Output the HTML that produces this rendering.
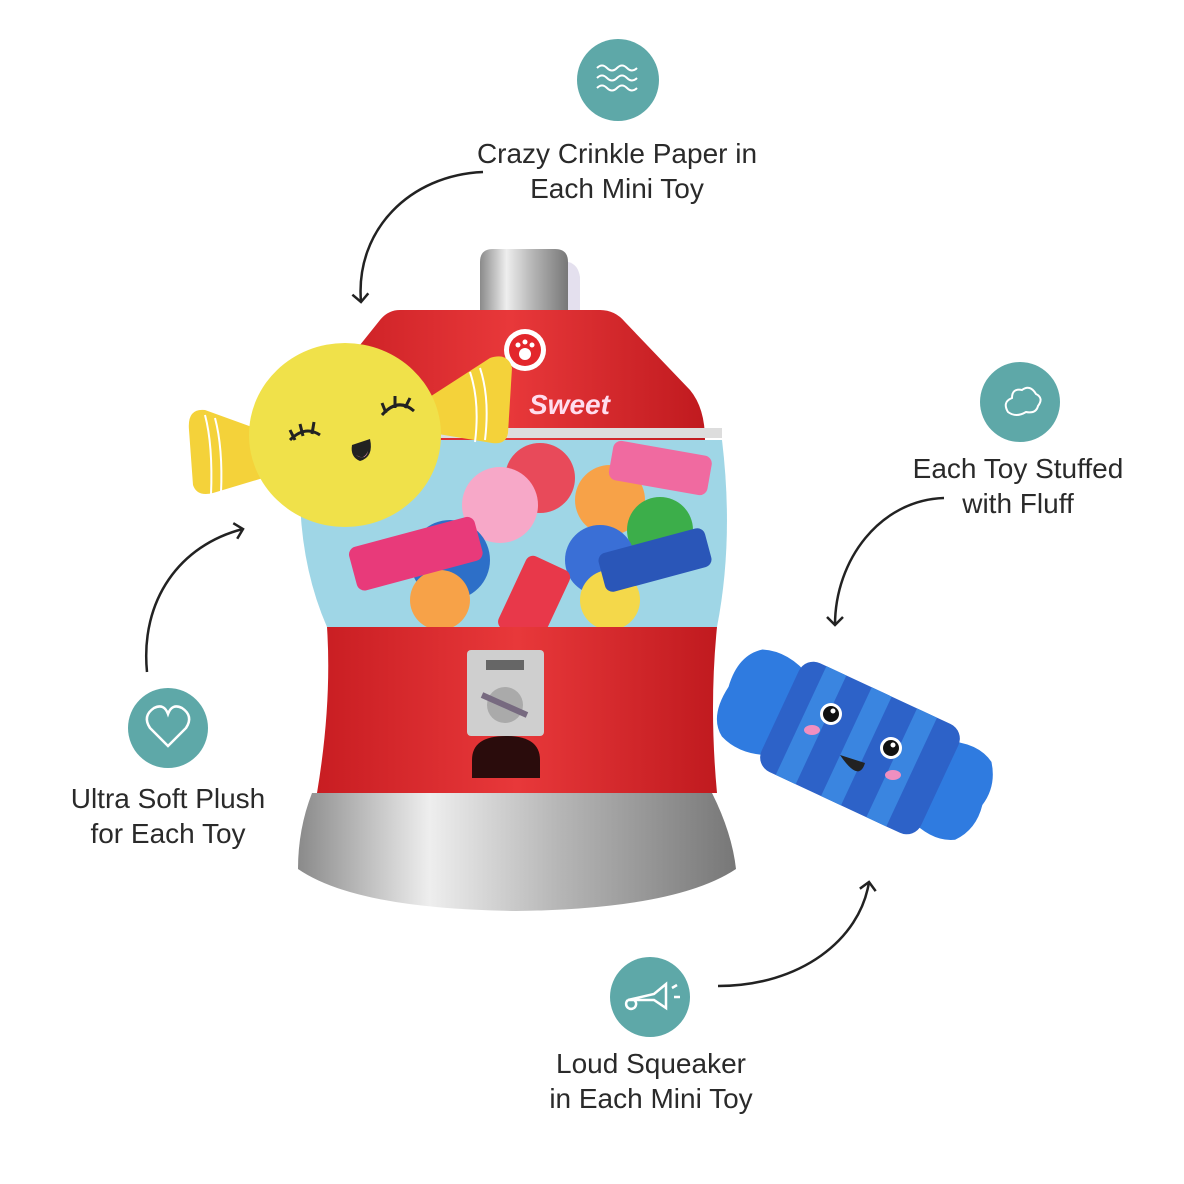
<!DOCTYPE html>
<html><head><meta charset="utf-8"><style>
html,body{margin:0;padding:0;background:#fff;width:1184px;height:1184px;overflow:hidden}
svg{display:block}
text{font-family:"Liberation Sans",sans-serif;fill:#2a2a2a}
</style></head><body>
<svg width="1184" height="1184" viewBox="0 0 1184 1184" xmlns="http://www.w3.org/2000/svg">
<defs>
<marker id="ah" markerWidth="20" markerHeight="20" refX="10" refY="10" orient="auto" markerUnits="userSpaceOnUse">
<path d="M2,2 L10,10 L2,18" fill="none" stroke="#222" stroke-width="2.5"/></marker>
<linearGradient id="silver" x1="0" x2="1"><stop offset="0" stop-color="#8a8a8a"/><stop offset="0.3" stop-color="#eee"/><stop offset="0.6" stop-color="#b5b5b5"/><stop offset="1" stop-color="#777"/></linearGradient>
<linearGradient id="red" x1="0" x2="1"><stop offset="0" stop-color="#c81d22"/><stop offset="0.5" stop-color="#e8383a"/><stop offset="1" stop-color="#c01a1f"/></linearGradient>
</defs>

<circle cx="618" cy="80" r="41" fill="#5ea8a8"/>
<path d="M597,68 q5,-5 10,0 t10,0 t10,0 t10,0 M597,78 q5,-5 10,0 t10,0 t10,0 t10,0 M597,88 q5,-5 10,0 t10,0 t10,0 t10,0" fill="none" stroke="#fff" stroke-width="2"/>
<circle cx="1020" cy="402" r="40" fill="#5ea8a8"/>
<path d="M1008,412 q-6,-10 4,-14 q0,-10 10,-8 q8,-6 14,4 q8,4 2,12 q-2,8 -12,6 q-10,6 -18,0z" fill="none" stroke="#fff" stroke-width="2"/>
<circle cx="168" cy="728" r="40" fill="#5ea8a8"/>
<path d="M168,746 l-18,-18 q-8,-12 4,-20 q10,-5 14,6 q4,-11 14,-6 q12,8 4,20z" fill="none" stroke="#fff" stroke-width="2.5"/>
<circle cx="650" cy="997" r="40" fill="#5ea8a8"/>
<path d="M628,1000 l26,-6 l12,-10 v24 l-12,-8z M628,1000 a5,5 0 1 0 4,-1 M672,988 l5,-3 M674,997 h6" fill="none" stroke="#fff" stroke-width="2.5"/>

<g font-size="28" text-anchor="middle">
<text x="617" y="163">Crazy Crinkle Paper in</text>
<text x="617" y="198">Each Mini Toy</text>
<text x="1018" y="478">Each Toy Stuffed</text>
<text x="1018" y="513">with Fluff</text>
<text x="168" y="808">Ultra Soft Plush</text>
<text x="168" y="843">for Each Toy</text>
<text x="651" y="1073">Loud Squeaker</text>
<text x="651" y="1108">in Each Mini Toy</text>
</g>

<g fill="none" stroke="#222" stroke-width="2.5" marker-end="url(#ah)">
<path d="M483,172 C410,175 355,230 361,302"/>
<path d="M944,498 C880,500 835,560 835,625"/>
<path d="M147,672 C140,600 180,545 243,529"/>
<path d="M718,986 C800,986 860,940 869,882"/>
</g>

<!-- gumball machine -->
<path d="M480,262 q0,-13 13,-13 h62 q13,0 13,13 v50 h-88z" fill="url(#silver)"/>
<path d="M568,262 q10,2 12,15 v35 h-12z" fill="#e4e0ee"/>
<path d="M420,310 h180 q15,0 25,12 l65,68 q15,18 15,50 h-390 q0,-40 25,-70 l40,-50 q8,-10 20,-10z" fill="url(#red)"/>
<text x="529" y="414" font-size="28" font-style="italic" font-weight="bold" style="fill:#fde">Sweet</text>
<circle cx="525" cy="350" r="21" fill="#fff"/>
<circle cx="525" cy="350" r="16" fill="#e3262b"/>
<circle cx="525" cy="354" r="6" fill="#fff"/><circle cx="518" cy="345" r="2.5" fill="#fff"/><circle cx="525" cy="342" r="2.5" fill="#fff"/><circle cx="532" cy="345" r="2.5" fill="#fff"/>
<path d="M302,440 h420 q12,100 -5,187 h-390 q-35,-80 -25,-187z" fill="#9fd6e6"/>
<circle cx="540" cy="478" r="35" fill="#e84a5a"/>
<circle cx="500" cy="505" r="38" fill="#f7a8c8"/>
<circle cx="610" cy="500" r="35" fill="#f7a248"/>
<circle cx="660" cy="530" r="33" fill="#3cae4a"/>
<circle cx="450" cy="560" r="40" fill="#2d6fc8"/>
<circle cx="600" cy="560" r="35" fill="#3a6fd6"/>
<circle cx="440" cy="600" r="30" fill="#f7a248"/>
<circle cx="610" cy="600" r="30" fill="#f4d84a"/>
<rect x="350" y="530" width="130" height="45" rx="8" fill="#e83a7a" transform="rotate(-15 420 550)"/>
<rect x="610" y="448" width="100" height="40" rx="8" fill="#f06aa0" transform="rotate(10 660 470)"/>
<rect x="600" y="540" width="110" height="40" rx="8" fill="#2a56b8" transform="rotate(-15 655 560)"/>
<rect x="510" y="560" width="48" height="80" rx="8" fill="#e8384a" transform="rotate(25 535 600)"/>
<rect x="302" y="428" width="420" height="10" fill="#ddd"/>
<path d="M327,627 h390 q-8,80 0,166 h-400 q15,-90 10,-166z" fill="url(#red)"/>
<rect x="467" y="650" width="77" height="86" rx="4" fill="#cfcfcf"/>
<rect x="486" y="660" width="38" height="10" fill="#666"/>
<circle cx="505" cy="705" r="18" fill="#aaa"/>
<path d="M482,695 l45,20" stroke="#776a80" stroke-width="6"/>
<path d="M472,760 q0,-24 34,-24 q34,0 34,24 v18 h-68z" fill="#2a0c0c"/>
<path d="M312,793 h400 q20,40 24,76 q-60,40 -220,42 q-160,-2 -218,-42 q0,-40 14,-76z" fill="url(#silver)"/>

<!-- yellow candy -->
<path d="M260,430 l-55,-20 q-18,-2 -16,20 l4,55 q4,12 20,8 l50,-15z" fill="#f4d23a"/>
<path d="M205,415 q8,30 6,80 M215,418 q8,30 6,75" stroke="#fff" stroke-width="2" fill="none"/>
<path d="M425,400 l65,-42 q18,-6 22,10 l-4,65 q-2,12 -16,10 l-60,-10z" fill="#f4d23a"/>
<path d="M470,372 q10,30 5,70 M480,368 q10,30 5,72" stroke="#fff" stroke-width="2" fill="none"/>
<ellipse cx="345" cy="435" rx="96" ry="92" fill="#f0e14a"/>
<path d="M290,440 q15,-15 30,-5 M295,440 l-5,-10 M303,436 l-3,-12 M312,434 l2,-12 M382,415 q16,-18 32,-4 M386,413 l-4,-10 M395,408 l0,-12 M405,408 l5,-10" stroke="#222" stroke-width="3" fill="none"/>
<path d="M352,445 l18,-6 q4,18 -10,22 q-10,-4 -8,-16z" fill="#222"/>
<path d="M356,455 q8,6 12,-4 q-2,10 -12,4z" fill="#f49ab5"/>

<!-- blue candy -->
<g transform="rotate(25 860 748)">
<path d="M785,705 q-30,-15 -55,-5 q-20,15 -15,48 q-5,35 15,48 q25,10 55,-5z" fill="#2f7be0"/>
<path d="M935,705 q30,-12 50,0 q15,20 10,43 q5,25 -10,43 q-20,12 -50,0z" fill="#2f7be0"/>
<rect x="772" y="688" width="176" height="120" rx="16" fill="#2d62c8"/>
<rect x="795" y="688" width="22" height="120" fill="#3a85e0"/>
<rect x="845" y="688" width="22" height="120" fill="#3a85e0"/>
<rect x="895" y="688" width="22" height="120" fill="#3a85e0"/>
</g>
<circle cx="831" cy="714" r="11" fill="#fff"/><circle cx="831" cy="714" r="8" fill="#111"/><circle cx="833" cy="711" r="2.5" fill="#fff"/>
<circle cx="891" cy="748" r="11" fill="#fff"/><circle cx="891" cy="748" r="8" fill="#111"/><circle cx="893" cy="745" r="2.5" fill="#fff"/>
<ellipse cx="812" cy="730" rx="8" ry="5" fill="#f08fc0"/>
<ellipse cx="893" cy="775" rx="8" ry="5" fill="#f08fc0"/>
<path d="M840,755 l25,8 q-6,20 -25,-8z" fill="#222"/>
</svg>
</body></html>
